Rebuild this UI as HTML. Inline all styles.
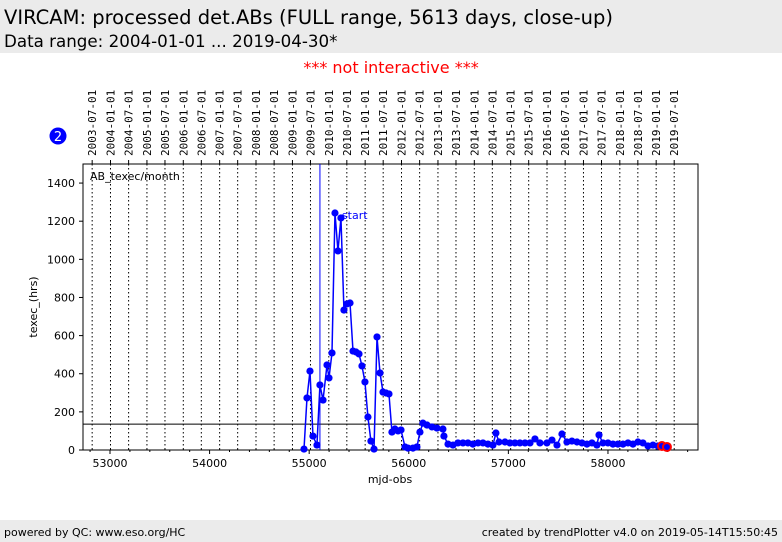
<!DOCTYPE html>
<html><head><meta charset="utf-8"><style>
body{margin:0;width:782px;height:542px;background:#fff;font-family:"DejaVu Sans","Liberation Sans",sans-serif;position:relative;overflow:hidden}
.hdr{position:absolute;left:0;top:0;width:782px;height:53px;background:#ebebeb}
.ftr{position:absolute;left:0;top:520px;width:782px;height:22px;background:#ebebeb;font-size:11px}
</style></head><body>
<div class="hdr">
<div style="position:absolute;left:4px;top:6px;font-size:19.5px;white-space:nowrap">VIRCAM: processed det.ABs (FULL range, 5613 days, close-up)</div>
<div style="position:absolute;left:4px;top:31px;font-size:16.7px;white-space:nowrap">Data range: 2004-01-01 ... 2019-04-30*</div>
</div>
<div style="position:absolute;left:0;width:782px;top:58px;text-align:center;color:#f00;font-size:16px">*** not interactive ***</div>
<svg id="chart" width="782" height="542" style="position:absolute;left:0;top:0"></svg>
<div class="ftr">
<span style="position:absolute;left:4px;top:6px">powered by QC: www.eso.org/HC</span>
<span style="position:absolute;right:4px;top:6px">created by trendPlotter v4.0 on 2019-05-14T15:50:45</span>
</div>
<script>
const mjd=[54948,54978,55008,55038,55078,55108,55139,55179,55199,55229,55259,55289,55319,55349,55379,55410,55440,55470,55500,55530,55560,55590,55620,55651,55681,55711,55741,55771,55801,55831,55861,55892,55922,55962,55992,56042,56082,56112,56142,56183,56233,56283,56343,56353,56394,56444,56494,56544,56594,56644,56695,56745,56795,56845,56875,56906,56966,57016,57066,57116,57167,57217,57267,57317,57387,57438,57488,57538,57588,57638,57689,57739,57789,57839,57889,57910,57950,58000,58050,58100,58151,58201,58251,58301,58351,58402,58452,58502];
const texec=[5,273,414,73,26,341,262,446,378,509,1243,1044,1217,734,766,771,519,514,504,441,357,173,47,5,593,404,304,299,294,94,110,100,105,16,10,10,16,94,141,131,121,115,110,73,31,26,37,37,37,31,37,37,31,26,89,42,42,37,37,37,37,37,58,37,37,52,26,84,42,47,42,37,31,37,26,79,37,37,31,31,31,37,31,42,37,21,26,21];
const redMjd=[58542,58592];
const redVal=[21,16];
const yTicks=[0,200,400,600,800,1000,1200,1400];
const xTicks=[53000,54000,55000,56000,57000,58000];
const refLine=136, startMjd=55108;
const L=83,R=698,T=164,B=450,X0=52729,X1=58904,Y0=0,Y1=1500;
const sx=m=>L+(m-X0)/(X1-X0)*(R-L), sy=v=>B-(v-Y0)/(Y1-Y0)*(B-T);
const svg=document.getElementById('chart');const NS='http://www.w3.org/2000/svg';
function mk(t,a,txt){const e=document.createElementNS(NS,t);for(const k in a)e.setAttribute(k,a[k]);if(txt!=null)e.textContent=txt;svg.appendChild(e);return e;}
function mjdOf(y,m){return Math.round(Date.UTC(y,m-1,1)/86400000+40587);}
for(let y=2003;y<=2019;y++)for(const m of [1,7]){
 if(y===2003&&m===1)continue;const d=mjdOf(y,m),x=sx(d);
 let g=mk('line',{x1:x,x2:x,y1:T,y2:B,stroke:'#000','stroke-dasharray':'1.5,2.5','stroke-width':1});
 
 let tk=mk('line',{x1:x,x2:x,y1:T-4,y2:T,stroke:'#000'});
 
 const lab=y+'-'+(m===1?'01':'07')+'-01';
 let t=mk('text',{x:0,y:0,transform:`translate(${x+4},156) rotate(-90)`,'font-size':11,'font-family':'DejaVu Sans Mono,Liberation Mono,monospace'},lab);
 
}
let fr=mk('rect',{x:L,y:T,width:R-L,height:B-T,fill:'none',stroke:'#000'});

yTicks.forEach(v=>{const y=sy(v);
 let l=mk('line',{x1:L-4,x2:L,y1:y,y2:y,stroke:'#000'});
 let t=mk('text',{x:L-8,y:y+4,'text-anchor':'end','font-size':11,'font-family':'DejaVu Sans,sans-serif'},v);});
xTicks.forEach(v=>{const x=sx(v);
 let l=mk('line',{x1:x,x2:x,y1:B,y2:B+4,stroke:'#000'});
 let t=mk('text',{x:x,y:B+17,'text-anchor':'middle','font-size':11,'font-family':'DejaVu Sans,sans-serif'},v);});
for(let v=52800;v<=58800;v+=200){if(v%1000===0)continue;const x=sx(v);let l=mk('line',{x1:x,x2:x,y1:B,y2:B+2,stroke:'#000'});}
let xt=mk('text',{x:390,y:483,'text-anchor':'middle','font-size':11,'font-family':'DejaVu Sans,sans-serif'},'mjd-obs');
let yt=mk('text',{x:0,y:0,transform:'translate(37,307) rotate(-90)','text-anchor':'middle','font-size':11,'font-family':'DejaVu Sans,sans-serif'},'texec_(hrs)');
let pl=mk('text',{x:90,y:180,'font-size':11,'font-family':'DejaVu Sans,sans-serif'},'AB_texec/month');
let rl=mk('line',{x1:L,x2:R,y1:sy(refLine),y2:sy(refLine),stroke:'#000'});
let sl=mk('line',{x1:sx(startMjd),x2:sx(startMjd),y1:T,y2:B,stroke:'#00f'});
let st=mk('text',{x:sx(startMjd)+22,y:219,'font-size':11,fill:'#00f','font-family':'DejaVu Sans,sans-serif'},'start');
let pts=mjd.map((m,i)=>sx(m)+','+sy(texec[i])).join(' ');
let ln=mk('polyline',{points:pts,fill:'none',stroke:'#00f','stroke-width':1.5});
mjd.forEach((m,i)=>{let c=mk('circle',{cx:sx(m),cy:sy(texec[i]),r:3.6,fill:'#00f'});});
redMjd.forEach((m,i)=>{let c=mk('circle',{cx:sx(m),cy:sy(redVal[i]),r:4,fill:'#00f',stroke:'#f00','stroke-width':2});});
let bc=mk('circle',{cx:58,cy:136,r:8.5,fill:'#00f'});
let bt=mk('text',{x:58,y:141,'text-anchor':'middle','font-size':13,fill:'#fff','font-family':'DejaVu Sans,sans-serif'},'2');
</script>
</body></html>
